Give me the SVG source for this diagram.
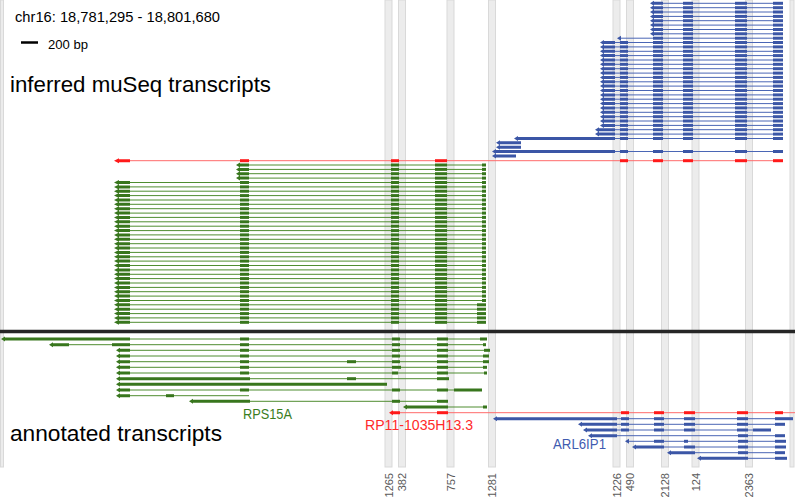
<svg xmlns="http://www.w3.org/2000/svg" xmlns:xlink="http://www.w3.org/1999/xlink" width="795" height="497" viewBox="0 0 795 497">
<style>
.band{fill:#ececec;stroke:#d9d9d9;stroke-width:1}
.gl{stroke:#4f8d30;stroke-width:1;fill:none}
.ge{fill:#38761d}
.bl{stroke:#4a66b5;stroke-width:1;fill:none}
.be{fill:#3b56a6}
.rl{stroke:#ff6b6b;stroke-width:1;fill:none}
.re{fill:#ff1a1a}
.t{font-family:"Liberation Sans",Arial,sans-serif}
.ax{font-family:"Liberation Sans",Arial,sans-serif;font-size:11px;fill:#595959;text-anchor:end}
</style>
<defs>
<g id="gF">
<line class="gl" x1="129" x2="486" y1="0" y2="0"/>
<path class="ge" d="M114,0 l5,-2.5 v1 h11 v3 h-11 v1 z"/>
<rect class="ge" x="240" y="-1.5" width="9" height="3"/>
<rect class="ge" x="391" y="-1.5" width="8" height="3"/>
<rect class="ge" x="435" y="-1.5" width="12" height="3"/>
<rect class="ge" x="482" y="-1.5" width="4" height="3"/>
</g>
<g id="gB">
<line class="gl" x1="129" x2="486" y1="0" y2="0"/>
<path class="ge" d="M114,0 l5,-2.5 v1 h11 v3 h-11 v1 z"/>
<rect class="ge" x="240" y="-1.5" width="9" height="3"/>
<rect class="ge" x="391" y="-1.5" width="8" height="3"/>
<rect class="ge" x="435" y="-1.5" width="12" height="3"/>
<rect class="ge" x="477" y="-1.5" width="9" height="3"/>
</g>
<g id="gS">
<line class="gl" x1="248" x2="486" y1="0" y2="0"/>
<path class="ge" d="M236,0 l4,-2.5 v1 h9 v3 h-9 v1 z"/>
<rect class="ge" x="391" y="-1.5" width="8" height="3"/>
<rect class="ge" x="435" y="-1.5" width="12" height="3"/>
<rect class="ge" x="482" y="-1.5" width="4" height="3"/>
</g>
<g id="bT">
<rect class="be" x="683" y="-1.5" width="10" height="3"/>
<rect class="be" x="735" y="-1.5" width="12" height="3"/>
<rect class="be" x="773" y="-1.5" width="10" height="3"/>
</g>
<g id="bR">
<line class="bl" x1="614" x2="783" y1="0" y2="0"/>
<rect class="be" x="620" y="-1.5" width="8" height="3"/>
<rect class="be" x="653" y="-1.5" width="10" height="3"/>
<use href="#bT"/>
</g>
<g id="bA">
<line class="bl" x1="662" x2="783" y1="0" y2="0"/>
<path class="be" d="M650,0 l4,-2.5 v1 h9 v3 h-9 v1 z"/>
<use href="#bT"/>
</g>
<g id="bC">
<use href="#bR"/>
<path class="be" d="M600,0 l4,-2.5 v1 h11 v3 h-11 v1 z"/>
</g>
<path id="bS" class="be" d="M496,0 l4,-2.5 v1 h21 v3 h-21 v1 z"/>
</defs>

<g id="bands">
<rect x="0.5" y="0" width="3" height="467" class="band"/>
<rect x="385" y="0" width="7" height="467" class="band"/>
<rect x="398.5" y="0" width="7" height="467" class="band"/>
<rect x="447" y="0" width="7" height="467" class="band"/>
<rect x="488.5" y="0" width="7" height="467" class="band"/>
<rect x="613" y="0" width="7" height="467" class="band"/>
<rect x="626.5" y="0" width="7" height="467" class="band"/>
<rect x="661.5" y="0" width="7" height="467" class="band"/>
<rect x="692" y="0" width="7" height="467" class="band"/>
<rect x="745.5" y="0" width="7" height="467" class="band"/>
<rect x="790" y="0" width="4" height="467" class="band"/>
</g>

<g id="labels-top">
<text class="t" x="15" y="22" font-size="14" textLength="205" lengthAdjust="spacingAndGlyphs">chr16: 18,781,295 - 18,801,680</text>
<line x1="21" x2="38" y1="42.5" y2="42.5" stroke="#000" stroke-width="2.5"/>
<text class="t" x="48" y="49" font-size="12" textLength="40" lengthAdjust="spacingAndGlyphs">200 bp</text>
<text class="t" x="10" y="92" font-size="22" textLength="261" lengthAdjust="spacingAndGlyphs">inferred muSeq transcripts</text>
</g>

<g id="inferred-blue">
<use href="#bA" y="3.3"/>
<use href="#bA" y="7.7"/>
<use href="#bA" y="12.0"/>
<use href="#bA" y="16.4"/>
<use href="#bA" y="20.7"/>
<use href="#bA" y="25.1"/>
<use href="#bA" y="29.5"/>
<use href="#bA" y="33.8"/>
<g transform="translate(0,38.2)">
<line class="bl" x1="620" x2="783" y1="0" y2="0"/>
<path class="be" d="M617,0 l4,-2.5 v5 z"/>
<rect class="be" x="653" y="-1.5" width="10" height="3"/>
<use href="#bT"/>
</g>
<use href="#bC" y="42.5"/>
<use href="#bC" y="46.9"/>
<use href="#bC" y="51.3"/>
<use href="#bC" y="55.6"/>
<use href="#bC" y="60.0"/>
<use href="#bC" y="64.3"/>
<use href="#bC" y="68.7"/>
<use href="#bC" y="73.1"/>
<use href="#bC" y="77.4"/>
<use href="#bC" y="81.8"/>
<use href="#bC" y="86.1"/>
<use href="#bC" y="90.5"/>
<use href="#bC" y="94.9"/>
<use href="#bC" y="99.2"/>
<use href="#bC" y="103.6"/>
<use href="#bC" y="107.9"/>
<use href="#bC" y="112.3"/>
<use href="#bC" y="116.7"/>
<use href="#bC" y="121.0"/>
<use href="#bC" y="125.4"/>
<g transform="translate(0,129.7)"><use href="#bR"/><path class="be" d="M595,0 l4,-2.5 v1 h16 v3 h-16 v1 z"/></g>
<g transform="translate(0,134.1)"><use href="#bR"/><path class="be" d="M595,0 l4,-2.5 v1 h16 v3 h-16 v1 z"/></g>
<g transform="translate(0,138.5)"><use href="#bR"/><path class="be" d="M514,0 l4,-2.5 v1 h97 v3 h-97 v1 z"/></g>
<use href="#bS" y="142.8"/>
<use href="#bS" y="147.2"/>
<g transform="translate(0,151.5)"><use href="#bR"/><path class="be" d="M492,0 l4,-2.5 v1 h119 v3 h-119 v1 z"/></g>
<path class="be" d="M492,155.9 l4,-2.5 v1 h20 v3 h-20 v1 z"/>
</g>

<g id="inferred-red">
<line class="rl" x1="118" x2="783" y1="160.7" y2="160.7"/>
<path class="re" d="M114,160.7 l5,-2.5 v1 h11 v3 h-11 v1 z"/>
<rect class="re" x="240" y="159.2" width="9" height="3"/>
<rect class="re" x="391" y="159.2" width="8" height="3"/>
<rect class="re" x="435" y="159.2" width="12" height="3"/>
<rect class="re" x="620" y="159.2" width="8" height="3"/>
<rect class="re" x="653" y="159.2" width="10" height="3"/>
<rect class="re" x="683" y="159.2" width="10" height="3"/>
<rect class="re" x="735" y="159.2" width="12" height="3"/>
<rect class="re" x="773" y="159.2" width="10" height="3"/>
</g>

<g id="inferred-green">
<use href="#gS" y="165.0"/>
<use href="#gS" y="169.4"/>
<use href="#gS" y="173.7"/>
<use href="#gS" y="178.1"/>
<use href="#gF" y="182.5"/>
<use href="#gF" y="186.9"/>
<use href="#gF" y="191.2"/>
<use href="#gF" y="195.6"/>
<use href="#gF" y="200.0"/>
<use href="#gF" y="204.3"/>
<use href="#gF" y="208.7"/>
<use href="#gF" y="213.1"/>
<use href="#gF" y="217.4"/>
<use href="#gF" y="221.8"/>
<use href="#gF" y="226.2"/>
<use href="#gF" y="230.6"/>
<use href="#gF" y="234.9"/>
<use href="#gF" y="239.3"/>
<use href="#gF" y="243.7"/>
<use href="#gF" y="248.0"/>
<use href="#gF" y="252.4"/>
<use href="#gF" y="256.8"/>
<use href="#gF" y="261.1"/>
<use href="#gF" y="265.5"/>
<use href="#gF" y="269.9"/>
<use href="#gF" y="274.3"/>
<use href="#gF" y="278.6"/>
<use href="#gF" y="283.0"/>
<use href="#gF" y="287.4"/>
<use href="#gF" y="291.7"/>
<use href="#gF" y="296.1"/>
<use href="#gF" y="300.5"/>
<use href="#gB" y="304.8"/>
<use href="#gB" y="309.2"/>
<use href="#gB" y="313.6"/>
<use href="#gB" y="317.9"/>
<use href="#gB" y="322.3"/>
</g>

<line id="separator" x1="0" x2="795" y1="331.5" y2="331.5" stroke="#262626" stroke-width="3.5"/>

<g id="annotated-green">
<line class="gl" x1="129" x2="487" y1="339" y2="339"/>
<path class="ge" d="M1,339 l4,-2.5 v1 h125 v3 h-125 v1 z"/>
<rect class="ge" x="240" y="337.5" width="9" height="3"/><rect class="ge" x="392" y="337.5" width="8" height="3"/><rect class="ge" x="437" y="337.5" width="11" height="3"/><rect class="ge" x="480" y="337.5" width="7" height="3"/>

<line class="gl" x1="68" x2="486" y1="344.7" y2="344.7"/>
<path class="ge" d="M49,344.7 l4,-2.5 v1 h16 v3 h-16 v1 z"/>
<rect class="ge" x="112" y="343.2" width="18" height="3"/><rect class="ge" x="240" y="343.2" width="9" height="3"/><rect class="ge" x="392" y="343.2" width="8" height="3"/><rect class="ge" x="437" y="343.2" width="11" height="3"/><rect class="ge" x="483" y="343.2" width="3" height="3"/>

<line class="gl" x1="129" x2="490" y1="350.3" y2="350.3"/>
<path class="ge" d="M116,350.3 l4,-2.5 v1 h10 v3 h-10 v1 z"/>
<rect class="ge" x="240" y="348.8" width="9" height="3"/><rect class="ge" x="392" y="348.8" width="8" height="3"/><rect class="ge" x="437" y="348.8" width="11" height="3"/><rect class="ge" x="484" y="348.8" width="6" height="3"/>

<line class="gl" x1="129" x2="489" y1="356" y2="356"/>
<path class="ge" d="M116,356 l4,-2.5 v1 h10 v3 h-10 v1 z"/>
<rect class="ge" x="240" y="354.5" width="9" height="3"/><rect class="ge" x="392" y="354.5" width="8" height="3"/><rect class="ge" x="437" y="354.5" width="11" height="3"/><rect class="ge" x="483" y="354.5" width="6" height="3"/>

<line class="gl" x1="129" x2="489" y1="361.7" y2="361.7"/>
<path class="ge" d="M116,361.7 l4,-2.5 v1 h10 v3 h-10 v1 z"/>
<rect class="ge" x="240" y="360.2" width="9" height="3"/><rect class="ge" x="347" y="360.2" width="9" height="3"/><rect class="ge" x="392" y="360.2" width="8" height="3"/><rect class="ge" x="437" y="360.2" width="11" height="3"/><rect class="ge" x="483" y="360.2" width="6" height="3"/>

<line class="gl" x1="129" x2="487" y1="367.3" y2="367.3"/>
<path class="ge" d="M116,367.3 l4,-2.5 v1 h10 v3 h-10 v1 z"/>
<rect class="ge" x="240" y="365.8" width="9" height="3"/><rect class="ge" x="392" y="365.8" width="9" height="3"/><rect class="ge" x="437" y="365.8" width="11" height="3"/><rect class="ge" x="483" y="365.8" width="4" height="3"/>

<line class="gl" x1="129" x2="487" y1="373" y2="373"/>
<path class="ge" d="M116,373 l4,-2.5 v1 h10 v3 h-10 v1 z"/>
<rect class="ge" x="240" y="371.5" width="9" height="3"/><rect class="ge" x="392" y="371.5" width="6" height="3"/><rect class="ge" x="437" y="371.5" width="11" height="3"/><rect class="ge" x="484" y="371.5" width="3" height="3"/>

<line class="gl" x1="249" x2="449" y1="378.7" y2="378.7"/>
<path class="ge" d="M116,378.7 l4,-2.5 v1 h130 v3 h-130 v1 z"/>
<rect class="ge" x="347" y="377.2" width="9" height="3"/><rect class="ge" x="437" y="377.2" width="12" height="3"/>

<path class="ge" d="M116,384.3 l4,-2.5 v1 h267 v3 h-267 v1 z"/>

<line class="gl" x1="129" x2="482" y1="390" y2="390"/>
<path class="ge" d="M116,390 l4,-2.5 v1 h10 v3 h-10 v1 z"/>
<rect class="ge" x="240" y="388.5" width="9" height="3"/><rect class="ge" x="392" y="388.5" width="8" height="3"/><rect class="ge" x="437" y="388.5" width="11" height="3"/><rect class="ge" x="454" y="388.5" width="28" height="3"/>

<line class="gl" x1="129" x2="249" y1="395.7" y2="395.7"/>
<path class="ge" d="M116,395.7 l4,-2.5 v1 h10 v3 h-10 v1 z"/>
<rect class="ge" x="166" y="394.2" width="8" height="3"/>

<line class="gl" x1="249" x2="448" y1="401.3" y2="401.3"/>
<path class="ge" d="M189,401.3 l4,-2.5 v1 h57 v3 h-57 v1 z"/>
<rect class="ge" x="392" y="399.8" width="8" height="3"/><rect class="ge" x="437" y="399.8" width="11" height="3"/>

<line class="gl" x1="447" x2="487" y1="407" y2="407"/>
<path class="ge" d="M403,407 l4,-2.5 v1 h41 v3 h-41 v1 z"/>
<rect class="ge" x="483" y="405.5" width="4" height="3"/>
</g>

<g id="annotated-red">
<line class="rl" x1="398" x2="795" y1="412.7" y2="412.7"/>
<path class="re" d="M389,412.7 l4,-2.5 v1 h7 v3 h-7 v1 z"/>
<rect class="re" x="437" y="411.2" width="11" height="3"/>
<rect class="re" x="621" y="411.2" width="8" height="3"/>
<rect class="re" x="654" y="411.2" width="10" height="3"/>
<rect class="re" x="684" y="411.2" width="11" height="3"/>
<rect class="re" x="737" y="411.2" width="11" height="3"/>
<rect class="re" x="775" y="411.2" width="8" height="3"/>
</g>

<g id="annotated-blue">
<line class="bl" x1="616" x2="793" y1="418.7" y2="418.7"/>
<path class="be" d="M493,418.7 l4,-2.5 v1 h120 v3 h-120 v1 z"/>
<rect class="be" x="621" y="417.2" width="8" height="3"/><rect class="be" x="654" y="417.2" width="10" height="3"/><rect class="be" x="684" y="417.2" width="11" height="3"/><rect class="be" x="737" y="417.2" width="11" height="3"/><rect class="be" x="775" y="417.2" width="18" height="3"/>

<line class="bl" x1="616" x2="785" y1="424.3" y2="424.3"/>
<path class="be" d="M578,424.3 l4,-2.5 v1 h35 v3 h-35 v1 z"/>
<rect class="be" x="621" y="422.8" width="8" height="3"/><rect class="be" x="654" y="422.8" width="10" height="3"/><rect class="be" x="684" y="422.8" width="11" height="3"/><rect class="be" x="737" y="422.8" width="11" height="3"/><rect class="be" x="775" y="422.8" width="10" height="3"/>

<line class="bl" x1="616" x2="771" y1="430" y2="430"/>
<path class="be" d="M583,430 l4,-2.5 v1 h30 v3 h-30 v1 z"/>
<rect class="be" x="621" y="428.5" width="8" height="3"/><rect class="be" x="654" y="428.5" width="10" height="3"/><rect class="be" x="684" y="428.5" width="11" height="3"/><rect class="be" x="737" y="428.5" width="11" height="3"/><rect class="be" x="753" y="428.5" width="18" height="3"/>

<line class="bl" x1="616" x2="785" y1="435.7" y2="435.7"/>
<path class="be" d="M588,435.7 l4,-2.5 v1 h25 v3 h-25 v1 z"/>
<rect class="be" x="738" y="434.2" width="10" height="3"/><rect class="be" x="775" y="434.2" width="10" height="3"/>

<line class="bl" x1="628" x2="786" y1="441.3" y2="441.3"/>
<path class="be" d="M625,441.3 l4,-2.5 v5 z"/>
<rect class="be" x="654" y="439.8" width="10" height="3"/><rect class="be" x="684" y="439.8" width="4" height="3"/><rect class="be" x="738" y="439.8" width="10" height="3"/><rect class="be" x="775" y="439.8" width="11" height="3"/>

<line class="bl" x1="663" x2="786" y1="447" y2="447"/>
<path class="be" d="M632,447 l4,-2.5 v1 h28 v3 h-28 v1 z"/>
<rect class="be" x="684" y="445.5" width="11" height="3"/><rect class="be" x="738" y="445.5" width="10" height="3"/><rect class="be" x="775" y="445.5" width="11" height="3"/>

<line class="bl" x1="694" x2="785" y1="452.7" y2="452.7"/>
<path class="be" d="M667,452.7 l4,-2.5 v1 h24 v3 h-24 v1 z"/>
<rect class="be" x="738" y="451.2" width="10" height="3"/><rect class="be" x="775" y="451.2" width="10" height="3"/>

<line class="bl" x1="747" x2="787" y1="458.3" y2="458.3"/>
<path class="be" d="M697,458.3 l4,-2.5 v1 h47 v3 h-47 v1 z"/>
<rect class="be" x="775" y="456.8" width="12" height="3"/>
</g>

<g id="labels-bottom">
<text class="t" x="243" y="419" font-size="14" fill="#3a7d1e" textLength="49" lengthAdjust="spacingAndGlyphs">RPS15A</text>
<text class="t" x="365" y="430" font-size="14" fill="#ff2a2a" textLength="108" lengthAdjust="spacingAndGlyphs">RP11-1035H13.3</text>
<text class="t" x="553" y="449" font-size="14" fill="#3f5bb0" textLength="53" lengthAdjust="spacingAndGlyphs">ARL6IP1</text>
<text class="t" x="10" y="441" font-size="22" textLength="212" lengthAdjust="spacingAndGlyphs">annotated transcripts</text>
</g>

<g id="axis">
<text class="ax" transform="translate(392.5,473) rotate(-90)">1265</text>
<text class="ax" transform="translate(406,473) rotate(-90)">382</text>
<text class="ax" transform="translate(454.5,473) rotate(-90)">757</text>
<text class="ax" transform="translate(496,473) rotate(-90)">1281</text>
<text class="ax" transform="translate(620.5,473) rotate(-90)">1226</text>
<text class="ax" transform="translate(634,473) rotate(-90)">490</text>
<text class="ax" transform="translate(669,473) rotate(-90)">2128</text>
<text class="ax" transform="translate(699.5,473) rotate(-90)">124</text>
<text class="ax" transform="translate(753,473) rotate(-90)">2363</text>
</g>
</svg>
